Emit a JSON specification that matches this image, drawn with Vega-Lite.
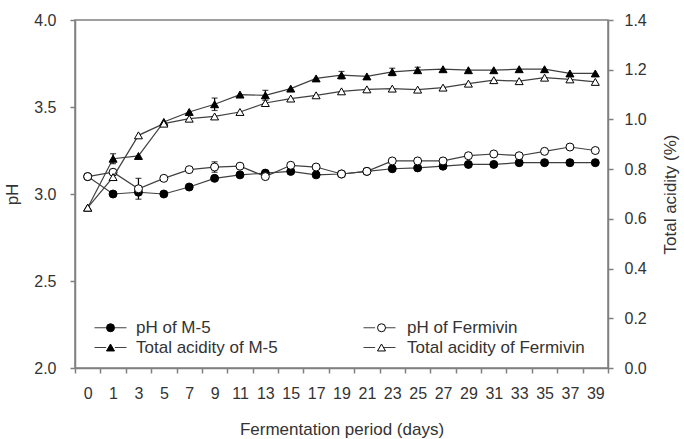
{
  "$schema": "https://vega.github.io/schema/vega-lite/v6.json",
  "width": 533,
  "height": 348,
  "autosize": {"type": "none"},
  "padding": {"left": 75, "top": 20, "right": 76, "bottom": 71},
  "config": {
    "font": "Liberation Sans",
    "view": {"stroke": "#808080", "strokeWidth": 1.5},
    "axis": {"domainColor": "#808080", "domainWidth": 1.5, "tickColor": "#808080", "tickWidth": 1.5, "tickSize": 5, "labelColor": "#333333", "titleColor": "#333333", "labelFontSize": 16, "titleFontSize": 17, "titleFontWeight": "normal", "grid": false}
  },
  "data": {"values": [
    {"d":0,"s":"pH of M-5","m":"pH","v":3.10,"e":0},
    {"d":1,"s":"pH of M-5","m":"pH","v":3.00,"e":0},
    {"d":3,"s":"pH of M-5","m":"pH","v":3.01,"e":0},
    {"d":5,"s":"pH of M-5","m":"pH","v":3.00,"e":0},
    {"d":7,"s":"pH of M-5","m":"pH","v":3.04,"e":0},
    {"d":9,"s":"pH of M-5","m":"pH","v":3.09,"e":0},
    {"d":11,"s":"pH of M-5","m":"pH","v":3.11,"e":0},
    {"d":13,"s":"pH of M-5","m":"pH","v":3.12,"e":0},
    {"d":15,"s":"pH of M-5","m":"pH","v":3.13,"e":0},
    {"d":17,"s":"pH of M-5","m":"pH","v":3.11,"e":0},
    {"d":19,"s":"pH of M-5","m":"pH","v":3.115,"e":0},
    {"d":21,"s":"pH of M-5","m":"pH","v":3.13,"e":0},
    {"d":23,"s":"pH of M-5","m":"pH","v":3.145,"e":0},
    {"d":25,"s":"pH of M-5","m":"pH","v":3.15,"e":0},
    {"d":27,"s":"pH of M-5","m":"pH","v":3.16,"e":0},
    {"d":29,"s":"pH of M-5","m":"pH","v":3.17,"e":0},
    {"d":31,"s":"pH of M-5","m":"pH","v":3.17,"e":0},
    {"d":33,"s":"pH of M-5","m":"pH","v":3.18,"e":0},
    {"d":35,"s":"pH of M-5","m":"pH","v":3.18,"e":0},
    {"d":37,"s":"pH of M-5","m":"pH","v":3.18,"e":0},
    {"d":39,"s":"pH of M-5","m":"pH","v":3.18,"e":0},
    {"d":0,"s":"pH of Fermivin","m":"pH","v":3.10,"e":0},
    {"d":1,"s":"pH of Fermivin","m":"pH","v":3.125,"e":0},
    {"d":3,"s":"pH of Fermivin","m":"pH","v":3.03,"e":0.06},
    {"d":5,"s":"pH of Fermivin","m":"pH","v":3.09,"e":0},
    {"d":7,"s":"pH of Fermivin","m":"pH","v":3.14,"e":0},
    {"d":9,"s":"pH of Fermivin","m":"pH","v":3.155,"e":0.03},
    {"d":11,"s":"pH of Fermivin","m":"pH","v":3.16,"e":0},
    {"d":13,"s":"pH of Fermivin","m":"pH","v":3.10,"e":0},
    {"d":15,"s":"pH of Fermivin","m":"pH","v":3.165,"e":0},
    {"d":17,"s":"pH of Fermivin","m":"pH","v":3.155,"e":0},
    {"d":19,"s":"pH of Fermivin","m":"pH","v":3.115,"e":0},
    {"d":21,"s":"pH of Fermivin","m":"pH","v":3.13,"e":0},
    {"d":23,"s":"pH of Fermivin","m":"pH","v":3.19,"e":0},
    {"d":25,"s":"pH of Fermivin","m":"pH","v":3.19,"e":0},
    {"d":27,"s":"pH of Fermivin","m":"pH","v":3.19,"e":0},
    {"d":29,"s":"pH of Fermivin","m":"pH","v":3.22,"e":0},
    {"d":31,"s":"pH of Fermivin","m":"pH","v":3.23,"e":0},
    {"d":33,"s":"pH of Fermivin","m":"pH","v":3.22,"e":0},
    {"d":35,"s":"pH of Fermivin","m":"pH","v":3.245,"e":0},
    {"d":37,"s":"pH of Fermivin","m":"pH","v":3.27,"e":0},
    {"d":39,"s":"pH of Fermivin","m":"pH","v":3.25,"e":0},
    {"d":0,"s":"Total acidity of M-5","m":"TA","v":0.645,"e":0},
    {"d":1,"s":"Total acidity of M-5","m":"TA","v":0.842,"e":0.02},
    {"d":3,"s":"Total acidity of M-5","m":"TA","v":0.853,"e":0},
    {"d":5,"s":"Total acidity of M-5","m":"TA","v":0.99,"e":0},
    {"d":7,"s":"Total acidity of M-5","m":"TA","v":1.03,"e":0},
    {"d":9,"s":"Total acidity of M-5","m":"TA","v":1.061,"e":0.025},
    {"d":11,"s":"Total acidity of M-5","m":"TA","v":1.10,"e":0},
    {"d":13,"s":"Total acidity of M-5","m":"TA","v":1.097,"e":0.02},
    {"d":15,"s":"Total acidity of M-5","m":"TA","v":1.124,"e":0},
    {"d":17,"s":"Total acidity of M-5","m":"TA","v":1.165,"e":0},
    {"d":19,"s":"Total acidity of M-5","m":"TA","v":1.178,"e":0.015},
    {"d":21,"s":"Total acidity of M-5","m":"TA","v":1.173,"e":0},
    {"d":23,"s":"Total acidity of M-5","m":"TA","v":1.191,"e":0.015},
    {"d":25,"s":"Total acidity of M-5","m":"TA","v":1.198,"e":0.012},
    {"d":27,"s":"Total acidity of M-5","m":"TA","v":1.202,"e":0},
    {"d":29,"s":"Total acidity of M-5","m":"TA","v":1.198,"e":0},
    {"d":31,"s":"Total acidity of M-5","m":"TA","v":1.198,"e":0},
    {"d":33,"s":"Total acidity of M-5","m":"TA","v":1.202,"e":0},
    {"d":35,"s":"Total acidity of M-5","m":"TA","v":1.202,"e":0},
    {"d":37,"s":"Total acidity of M-5","m":"TA","v":1.185,"e":0},
    {"d":39,"s":"Total acidity of M-5","m":"TA","v":1.185,"e":0},
    {"d":0,"s":"Total acidity of Fermivin","m":"TA","v":0.645,"e":0},
    {"d":1,"s":"Total acidity of Fermivin","m":"TA","v":0.768,"e":0},
    {"d":3,"s":"Total acidity of Fermivin","m":"TA","v":0.936,"e":0},
    {"d":5,"s":"Total acidity of Fermivin","m":"TA","v":0.983,"e":0},
    {"d":7,"s":"Total acidity of Fermivin","m":"TA","v":1.003,"e":0},
    {"d":9,"s":"Total acidity of Fermivin","m":"TA","v":1.012,"e":0},
    {"d":11,"s":"Total acidity of Fermivin","m":"TA","v":1.03,"e":0},
    {"d":13,"s":"Total acidity of Fermivin","m":"TA","v":1.066,"e":0},
    {"d":15,"s":"Total acidity of Fermivin","m":"TA","v":1.084,"e":0},
    {"d":17,"s":"Total acidity of Fermivin","m":"TA","v":1.097,"e":0},
    {"d":19,"s":"Total acidity of Fermivin","m":"TA","v":1.113,"e":0},
    {"d":21,"s":"Total acidity of Fermivin","m":"TA","v":1.121,"e":0},
    {"d":23,"s":"Total acidity of Fermivin","m":"TA","v":1.124,"e":0},
    {"d":25,"s":"Total acidity of Fermivin","m":"TA","v":1.12,"e":0},
    {"d":27,"s":"Total acidity of Fermivin","m":"TA","v":1.128,"e":0},
    {"d":29,"s":"Total acidity of Fermivin","m":"TA","v":1.144,"e":0},
    {"d":31,"s":"Total acidity of Fermivin","m":"TA","v":1.158,"e":0},
    {"d":33,"s":"Total acidity of Fermivin","m":"TA","v":1.154,"e":0},
    {"d":35,"s":"Total acidity of Fermivin","m":"TA","v":1.168,"e":0},
    {"d":37,"s":"Total acidity of Fermivin","m":"TA","v":1.161,"e":0},
    {"d":39,"s":"Total acidity of Fermivin","m":"TA","v":1.151,"e":0}
  ]},
  "layer": [
    {
      "transform": [{"filter": "datum.m === 'pH'"}],
      "encoding": {
        "x": {"field": "d", "type": "ordinal", "scale": {"type": "band", "paddingInner": 0, "paddingOuter": 0}, "axis": {"title": "Fermentation period (days)", "labelAngle": 0, "tickBand": "extent", "labelPadding": 12, "titlePadding": 20, "orient": "bottom"}},
        "y": {"field": "v", "type": "quantitative", "scale": {"domain": [2, 4], "nice": false, "zero": false}, "axis": {"orient": "left", "title": "pH", "values": [2, 2.5, 3, 3.5, 4], "format": ".1f", "labelPadding": 14, "titlePadding": 12}}
      },
      "layer": [
        {"mark": {"type": "line", "strokeWidth": 1.2},
         "encoding": {
           "color": {"field": "s", "type": "nominal", "scale": {"domain": ["Total acidity of M-5", "pH of M-5", "Total acidity of Fermivin", "pH of Fermivin"], "range": ["#404040", "#404040", "#404040", "#404040"]},
             "legend": {"title": null, "orient": "none", "legendX": 27, "legendY": 299, "columns": 2, "columnPadding": 83, "rowPadding": 2, "symbolType": "M-4,0H-1.1M1.1,0H4", "symbolSize": 64, "symbolStrokeWidth": 1, "labelOffset": 17, "labelFontSize": 17, "labelLimit": 0, "labelColor": "#333333", "labelOpacity": 0, "padding": 0}}
         }},
        {"transform": [{"filter": "datum.e > 0"}], "mark": {"type": "errorbar", "color": "black", "thickness": 1.2, "ticks": {"size": 6, "thickness": 1.2}}, "encoding": {"yError": {"field": "e"}}},
        {"mark": {"type": "point", "filled": true, "strokeWidth": 1, "size": 64, "opacity": 1},
         "encoding": {
           "shape": {"field": "s", "type": "nominal", "scale": {"domain": ["pH of M-5", "Total acidity of M-5", "pH of Fermivin", "Total acidity of Fermivin"], "range": ["circle", "triangle-up", "circle", "triangle-up"]},
             "legend": {"title": null, "orient": "none", "legendX": 27, "legendY": 299, "columns": 2, "columnPadding": 95, "rowPadding": 2, "symbolSize": 64, "symbolStrokeWidth": 1, "symbolOpacity": 1, "labelOffset": 17, "labelFontSize": 17, "labelLimit": 0, "labelColor": "#333333", "padding": 0}},
           "fill": {"field": "s", "type": "nominal", "scale": {"domain": ["pH of M-5", "Total acidity of M-5", "pH of Fermivin", "Total acidity of Fermivin"], "range": ["black", "black", "white", "white"]}},
           "stroke": {"field": "s", "type": "nominal", "scale": {"domain": ["pH of M-5", "Total acidity of M-5", "pH of Fermivin", "Total acidity of Fermivin"], "range": ["black", "black", "black", "black"]}}
         }}
      ]
    },
    {
      "transform": [{"filter": "datum.m === 'TA'"}],
      "encoding": {
        "x": {"field": "d", "type": "ordinal", "scale": {"type": "band", "paddingInner": 0, "paddingOuter": 0}},
        "y": {"field": "v", "type": "quantitative", "scale": {"domain": [0, 1.4], "nice": false}, "axis": {"orient": "right", "title": "Total acidity (%)", "values": [0, 0.2, 0.4, 0.6, 0.8, 1.0, 1.2, 1.4], "format": ".1f", "labelPadding": 11, "titlePadding": 16, "titleAngle": 270, "titleBaseline": "top"}}
      },
      "layer": [
        {"mark": {"type": "line", "strokeWidth": 1.2}, "encoding": {"color": {"field": "s", "type": "nominal", "legend": null}}},
        {"transform": [{"filter": "datum.e > 0"}], "mark": {"type": "errorbar", "color": "black", "thickness": 1.2, "ticks": {"size": 6, "thickness": 1.2}}, "encoding": {"yError": {"field": "e"}}},
        {"mark": {"type": "point", "filled": true, "strokeWidth": 1, "size": 64, "opacity": 1},
         "encoding": {
           "shape": {"field": "s", "type": "nominal", "legend": null},
           "fill": {"field": "s", "type": "nominal", "legend": null},
           "stroke": {"field": "s", "type": "nominal", "legend": null}
         }}
      ]
    }
  ],
  "resolve": {"scale": {"y": "independent"}}
}
